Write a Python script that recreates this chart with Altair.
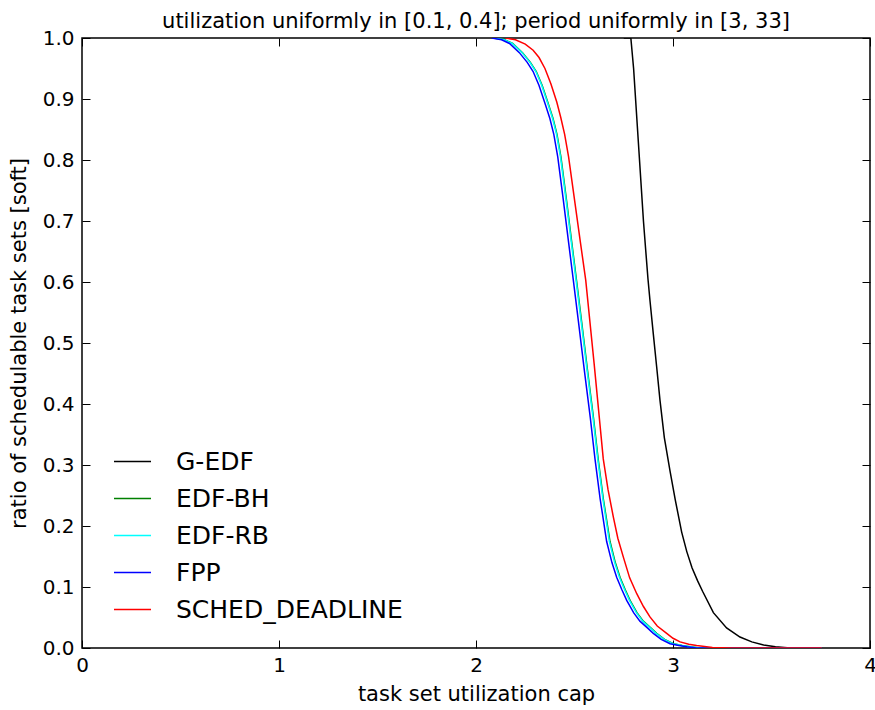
import altair as alt
import pandas as pd

# ---- data ----
series_names = ["G-EDF", "EDF-BH", "EDF-RB", "FPP", "SCHED_DEADLINE"]
series_colors = ["#000000", "#008000", "#00ffff", "#0000ff", "#ff0000"]

gedf_x = [2.75, 2.786, 2.80, 2.81, 2.83, 2.85, 2.862, 2.873, 2.883, 2.90, 2.917, 2.934,
          2.956, 2.985, 3.012, 3.044, 3.07, 3.097, 3.125, 3.15, 3.205, 3.272, 3.34,
          3.40, 3.46, 3.52, 3.58, 3.62, 3.755]
gedf_y = [1.0, 1.0, 0.95, 0.90, 0.80, 0.70, 0.65, 0.605, 0.57, 0.515, 0.461, 0.406,
          0.345, 0.29, 0.242, 0.19, 0.158, 0.131, 0.11, 0.093, 0.058, 0.033, 0.018,
          0.010, 0.005, 0.002, 0.0005, 0.0, 0.0]

edfbh_x = [2.09, 2.145, 2.186, 2.236, 2.276, 2.306, 2.336, 2.366, 2.391, 2.411, 2.431,
           2.459, 2.486, 2.51, 2.536, 2.566, 2.596, 2.62, 2.646, 2.68, 2.707, 2.731,
           2.757, 2.782, 2.817, 2.849, 2.887, 2.917, 2.957, 3.002, 3.047, 3.087, 3.137,
           3.755]
edfbh_y = [1.0, 0.997, 0.991, 0.976, 0.96, 0.945, 0.922, 0.893, 0.868, 0.842, 0.805,
           0.735, 0.665, 0.603, 0.535, 0.455, 0.378, 0.31, 0.245, 0.175, 0.14, 0.116,
           0.096, 0.078, 0.058, 0.044, 0.033, 0.024, 0.014, 0.007, 0.004, 0.002, 0.0,
           0.0]

edfrb_x = [2.09, 2.143, 2.184, 2.234, 2.274, 2.304, 2.334, 2.364, 2.389, 2.409, 2.429,
           2.457, 2.484, 2.508, 2.534, 2.564, 2.594, 2.618, 2.644, 2.677, 2.704, 2.728,
           2.754, 2.779, 2.814, 2.846, 2.884, 2.914, 2.954, 2.999, 3.044, 3.084, 3.134,
           3.755]
edfrb_y = [1.0, 0.997, 0.991, 0.976, 0.96, 0.945, 0.922, 0.893, 0.868, 0.842, 0.805,
           0.735, 0.665, 0.603, 0.535, 0.455, 0.378, 0.31, 0.245, 0.175, 0.14, 0.116,
           0.096, 0.078, 0.058, 0.044, 0.033, 0.024, 0.014, 0.007, 0.004, 0.002, 0.0,
           0.0]

fpp_x = [2.08, 2.13, 2.17, 2.22, 2.26, 2.29, 2.32, 2.35, 2.375, 2.395, 2.415, 2.443,
         2.47, 2.494, 2.52, 2.55, 2.58, 2.604, 2.63, 2.663, 2.69, 2.714, 2.74, 2.765,
         2.80, 2.832, 2.87, 2.90, 2.94, 2.985, 3.03, 3.07, 3.12, 3.755]
fpp_y = [1.0, 0.997, 0.991, 0.976, 0.96, 0.945, 0.922, 0.893, 0.868, 0.842, 0.805, 0.735,
         0.665, 0.603, 0.535, 0.455, 0.378, 0.31, 0.245, 0.175, 0.14, 0.116, 0.096, 0.078,
         0.058, 0.044, 0.033, 0.024, 0.014, 0.007, 0.004, 0.002, 0.0, 0.0]

sched_x = [2.15, 2.20, 2.25, 2.29, 2.32, 2.35, 2.38, 2.41, 2.43, 2.45, 2.47, 2.503,
           2.53, 2.557, 2.60, 2.646, 2.67, 2.697, 2.72, 2.748, 2.78, 2.816, 2.85,
           2.883, 2.92, 2.968, 3.00, 3.036, 3.08, 3.12, 3.20, 3.30, 3.755]
sched_y = [1.0, 0.997, 0.99, 0.98, 0.968, 0.95, 0.925, 0.895, 0.87, 0.842, 0.805, 0.728,
           0.665, 0.603, 0.465, 0.31, 0.26, 0.215, 0.18, 0.149, 0.115, 0.089, 0.068,
           0.051, 0.036, 0.024, 0.016, 0.01, 0.006, 0.004, 0.001, 0.0, 0.0]

x_ticks = [0, 1, 2, 3, 4]
y_ticks = [0.0, 0.1, 0.2, 0.3, 0.4, 0.5, 0.6, 0.7, 0.8, 0.9, 1.0]

title_text = "utilization uniformly in [0.1, 0.4]; period uniformly in [3, 33]"
x_title = "task set utilization cap"
y_title = "ratio of schedulable task sets [soft]"

# ---- build table ----
all_xy = [(gedf_x, gedf_y), (edfbh_x, edfbh_y), (edfrb_x, edfrb_y),
          (fpp_x, fpp_y), (sched_x, sched_y)]
rows = []
for name, (xs, ys) in zip(series_names, all_xy):
    for xv, yv in zip(xs, ys):
        rows.append({"series": name, "u": xv, "r": yv})
df = pd.DataFrame(rows)

FONT = "DejaVu Sans"

xscale = alt.Scale(domain=[0, 4], nice=False, zero=False)
yscale = alt.Scale(domain=[0, 1], nice=False, zero=False)
color = alt.Color(
    "series:N",
    scale=alt.Scale(domain=series_names, range=series_colors),
    sort=series_names,
    legend=alt.Legend(
        title=None, orient="none", legendX=31, legendY=404,
        symbolType="stroke", symbolSize=1369, symbolStrokeWidth=1.5,
        labelFontSize=25, labelFont=FONT, labelColor="#000000",
        labelOffset=24, rowPadding=4, padding=0, labelLimit=400,
    ),
)

base = alt.Chart(df)

lines = base.mark_line(strokeWidth=1.5, clip=True).encode(
    x=alt.X("u:Q", scale=xscale,
            axis=alt.Axis(values=x_ticks, format="d", title=x_title, offset=-8,
                          tickSize=8, tickWidth=1, tickColor="#000000", domain=False,
                          grid=False, labelPadding=7, labelFlush=False,
                          labelFontSize=20, labelFont=FONT,
                          labelColor="#000000", titleFontSize=21, titleFont=FONT,
                          titleFontWeight="normal", titleColor="#000000",
                          titlePadding=8)),
    y=alt.Y("r:Q", scale=yscale,
            axis=alt.Axis(values=y_ticks, format=".1f", title=y_title, offset=-8,
                          tickSize=8, tickWidth=1, tickColor="#000000", domain=False,
                          grid=False, labelPadding=8, labelFlush=False,
                          labelFontSize=20, labelFont=FONT,
                          labelColor="#000000", titleFontSize=21, titleFont=FONT,
                          titleFontWeight="normal", titleColor="#000000",
                          titlePadding=13)),
    color=color,
    order=alt.Order("u:Q"),
)

frame = base.mark_line(opacity=0).encode(
    x=alt.X("u:Q", scale=xscale,
            axis=alt.Axis(values=x_ticks, orient="top", labels=False, title=None,
                          offset=-8, tickSize=8, tickWidth=1, tickColor="#000000",
                          domain=False, grid=False)),
    y=alt.Y("r:Q", scale=yscale,
            axis=alt.Axis(values=y_ticks, orient="right", labels=False, title=None,
                          offset=-8, tickSize=8, tickWidth=1, tickColor="#000000",
                          domain=False, grid=False)),
    detail="series:N",
)

chart = alt.layer(lines, frame).resolve_scale(
    x="independent", y="independent"
).properties(
    width=788,
    height=610,
    autosize=alt.AutoSizeParams(type="none"),
    padding={"left": 82, "top": 38, "right": 5, "bottom": 62},
    title=alt.TitleParams(title_text, fontSize=21, font=FONT, fontWeight="normal",
                          color="#000000", offset=-4, anchor="middle"),
).configure(
    background="#ffffff"
).configure_view(
    stroke="#000000", strokeWidth=1.5, fill="#ffffff"
)

chart.save("out.html", embed_options={"renderer": "svg", "actions": False})
